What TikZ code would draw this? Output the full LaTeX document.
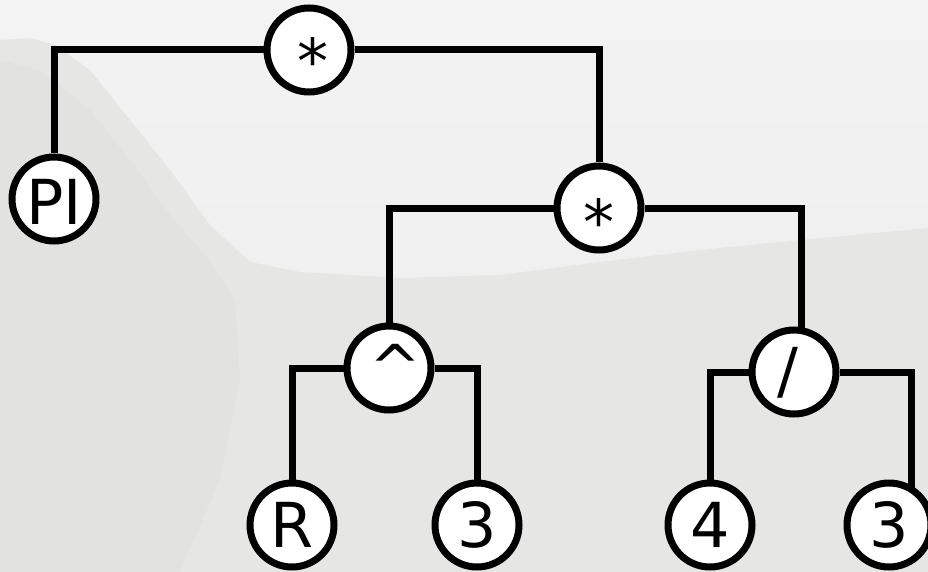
\documentclass[tikz,border=0pt]{standalone}
\usepackage{fontspec}
\setmainfont{DejaVu Sans}

\pgfdeclarelayer{scenery}
\pgfdeclarelayer{wires}
\pgfsetlayers{scenery,wires,main}

\definecolor{skytop}{HTML}{F3F3F4}
\definecolor{skylow}{HTML}{ECECEC}
\definecolor{hillfar}{HTML}{E6E6E5}
\definecolor{hillnear}{HTML}{E0DFDC}

% label placed with its baseline #2 below the node centre, shifted #1 to the right
\newcommand\glyphat[3]{\raisebox{#2}[0pt][0pt]{\makebox[0pt]{\hspace*{#1}\hspace*{#1}#3}}}

\tikzset{
  opnode/.style={circle, draw=black, line width=7pt, fill=white,
    minimum size=84pt, inner sep=0pt, text height=0pt, text depth=0pt,
    font=\fontsize{62}{62}\selectfont},
  wire/.style={draw=black, line width=7pt, line join=miter},
}

\begin{document}
\begin{tikzpicture}[x=1pt, y=-1pt]
\useasboundingbox (0,0) rectangle (928,572);

% hazy mountain backdrop
\begin{pgfonlayer}{scenery}
  \shade[top color=skytop, bottom color=skylow] (0,0) rectangle (928,572);
  \fill[hillfar] (0,40) -- (30,38) -- (55,45) -- (90,70) -- (130,120)
    -- (170,170) -- (210,225) -- (250,262) -- (300,272) -- (400,278)
    -- (500,275) -- (600,262) -- (700,250) -- (800,240) -- (928,228)
    -- (928,572) -- (0,572) -- cycle;
  \fill[hillnear, opacity=0.5] (0,60) -- (40,70) -- (90,110) -- (130,160)
    -- (170,215) -- (205,255) -- (235,300) -- (240,380) -- (220,480)
    -- (180,572) -- (0,572) -- cycle;
\end{pgfonlayer}

% operator and operand nodes
\node[opnode] (root)   at (309,50)  {\glyphat{4pt}{-34pt}{*}};
\node[opnode] (pi)     at (54,199)  {\glyphat{0pt}{-25pt}{PI}};
\node[opnode] (mul)    at (599,208) {\glyphat{0pt}{-36pt}{*}};
\node[opnode] (pow)    at (389,368) {\glyphat{6pt}{-21.5pt}{\^{}}};
\node[opnode] (div)    at (794,372) {\glyphat{-6pt}{-20pt}{/}};
\node[opnode] (r)      at (292,525) {\glyphat{0pt}{-22pt}{R}};
\node[opnode] (three1) at (477,525) {\glyphat{0pt}{-22pt}{3}};
\node[opnode] (four)   at (710,525) {\glyphat{0pt}{-22pt}{4}};
\node[opnode] (three2) at (889,525) {\glyphat{0pt}{-22pt}{3}};

% tree connectors, drawn beneath the nodes
\begin{pgfonlayer}{wires}
  \draw[wire] (root) -| (pi);
  \draw[wire] (root) -| (mul);
  \draw[wire] (mul) -| (pow);
  \draw[wire] (mul) -| ([xshift=7pt]div.center);
  \draw[wire] (pow) -| (r);
  \draw[wire] (pow) -| (three1);
  \draw[wire] (div) -| (four);
  \draw[wire] (div) -| ([xshift=22pt]three2.center);
\end{pgfonlayer}
\end{tikzpicture}
\end{document}
